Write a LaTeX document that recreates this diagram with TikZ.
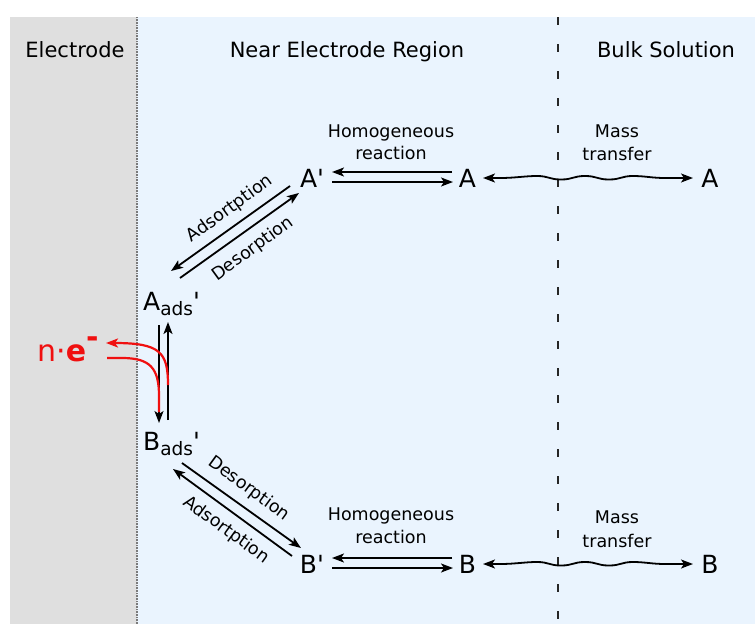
\documentclass[tikz,border=0pt]{standalone}
\usepackage{fontspec}
\newfontfamily\dv{DejaVu Sans}
\usetikzlibrary{arrows.meta}
\definecolor{elgray}{HTML}{DFDFDF}
\definecolor{nearblue}{HTML}{EAF4FE}
\definecolor{edgegray}{HTML}{7A7A7A}
\definecolor{ered}{HTML}{F01010}
\begin{document}
\begin{tikzpicture}[x=1pt,y=-1pt,
  hdr/.style={font=\dv\fontsize{21}{25}\selectfont, inner sep=0pt, anchor=base},
  lbl/.style={font=\dv\fontsize{17.5}{20}\selectfont, inner sep=0pt, anchor=base},
  dlbl/.style={font=\dv\fontsize{17.5}{20}\selectfont, inner sep=0pt},
  sp/.style={font=\dv\fontsize{25}{25}\selectfont, inner sep=0pt, anchor=base},
  arr/.style={line width=1.8pt, -{Stealth[length=12pt,width=9pt,inset=3pt]}},
  dblarr/.style={line width=1.8pt, {Stealth[length=12pt,width=9pt,inset=3pt]}-{Stealth[length=12pt,width=9pt,inset=3pt]}},
  redarr/.style={line width=2.2pt, color=ered, -{Stealth[length=12pt,width=9pt,inset=3pt]}},
  redline/.style={line width=2.2pt, color=ered}]
\useasboundingbox (0,0) rectangle (755,624);
% backgrounds
\fill[elgray] (10,17) rectangle (137,624);
\fill[nearblue] (137,17) rectangle (755,624);
\draw[edgegray, line width=1.6pt, dash pattern=on 1pt off 0.6pt] (137,17) -- (137,624);
\draw[black!85, line width=2.4pt, dash pattern=on 8pt off 19pt] (558,17) -- (558,624);
% headers
\node[hdr] (elec) at (75,57) {Electrode};
\node[hdr] (near) at (347,57) {Near Electrode Region};
\node[hdr] (bulk) at (666,57) {Bulk Solution};
% species
\node[sp] (Ap) at (312,187) {A'};
\node[sp] (A) at (467.5,187) {A};
\node[sp] (Ab) at (710,187) {A};
\node[sp] (Bp) at (312,573) {B'};
\node[sp] (B) at (467.5,573) {B};
\node[sp] (Bb) at (710,573) {B};
\node[sp, anchor=base west] (Aads) at (143,310) {A\raisebox{-5pt}{\fontsize{18.5}{18}\selectfont ads}'};
\node[sp, anchor=base west] (Bads) at (143,450) {B\raisebox{-5pt}{\fontsize{18.5}{18}\selectfont ads}'};
\node[anchor=base west, inner sep=0pt, text=ered, font=\dv\fontsize{30}{30}\selectfont] (ne) at (37,361) {n·\textbf{e}\raisebox{14pt}{\textbf{-}}};
% labels
\node[lbl] (hom1) at (391,137) {Homogeneous};
\node[lbl] (rea1) at (391,159) {reaction};
\node[lbl] (mas1) at (617,137) {Mass};
\node[lbl] (tra1) at (617,160) {transfer};
\node[lbl] (hom2) at (391,520) {Homogeneous};
\node[lbl] (rea2) at (391,543) {reaction};
\node[lbl] (mas2) at (617,523) {Mass};
\node[lbl] (tra2) at (617,547) {transfer};
\node[dlbl, rotate=36] (ads1) at (230,209) {Adsortption};
\node[dlbl, rotate=36] (des1) at (253,249) {Desorption};
\node[dlbl, rotate=-36] (des2) at (249,489) {Desorption};
\node[dlbl, rotate=-36] (ads2) at (226,530) {Adsortption};
% endpoint coordinates
\coordinate (hA1s) at (452,172); \coordinate (hA1e) at (332,172);
\coordinate (hA2s) at (332,182); \coordinate (hA2e) at (453,182);
\coordinate (hB1s) at (452,558); \coordinate (hB1e) at (332,558);
\coordinate (hB2s) at (332,568); \coordinate (hB2e) at (453,568);
\coordinate (dA1s) at (290,186); \coordinate (dA1e) at (171,271);
\coordinate (dA2s) at (180,278); \coordinate (dA2e) at (299,193);
\coordinate (dB1s) at (182,463); \coordinate (dB1e) at (301,548);
\coordinate (dB2s) at (292,556); \coordinate (dB2e) at (173,469);
\coordinate (vds) at (159,325); \coordinate (vde) at (159,423);
\coordinate (vus) at (168,420); \coordinate (vue) at (168,322);
% homogeneous reactions
\draw[arr] (hA1s) -- (hA1e);
\draw[arr] (hA2s) -- (hA2e);
\draw[arr] (hB1s) -- (hB1e);
\draw[arr] (hB2s) -- (hB2e);
% adsorption / desorption
\draw[arr] (dA1s) -- (dA1e);
\draw[arr] (dA2s) -- (dA2e);
\draw[arr] (dB1s) -- (dB1e);
\draw[arr] (dB2s) -- (dB2e);
% electron transfer
\draw[arr] (vds) -- (vde);
\draw[arr] (vus) -- (vue);
\draw[redarr] (168,385) .. controls (168,352) and (160,343) .. (106,343);
\draw[redline] (107,358) -- (122,358) .. controls (150,358) and (159,368) .. (159,396) -- (159,412);
% mass transfer
\draw[dblarr] (483,178) -- (500,178) .. controls (515,178) and (525,176) .. (537,176) .. controls (549,176) and (549,179.5) .. (561,179.5) .. controls (573,179.5) and (573,176) .. (585,176) .. controls (597,176) and (597,179.5) .. (609,179.5) .. controls (621,179.5) and (621,176) .. (633,176) .. controls (645,176) and (652,178) .. (665,178) -- (693,178);
\draw[dblarr] (483,564) -- (500,564) .. controls (515,564) and (525,562) .. (537,562) .. controls (549,562) and (549,565.5) .. (561,565.5) .. controls (573,565.5) and (573,562) .. (585,562) .. controls (597,562) and (597,565.5) .. (609,565.5) .. controls (621,565.5) and (621,562) .. (633,562) .. controls (645,562) and (652,564) .. (665,564) -- (693,564);
\end{tikzpicture}
\end{document}
